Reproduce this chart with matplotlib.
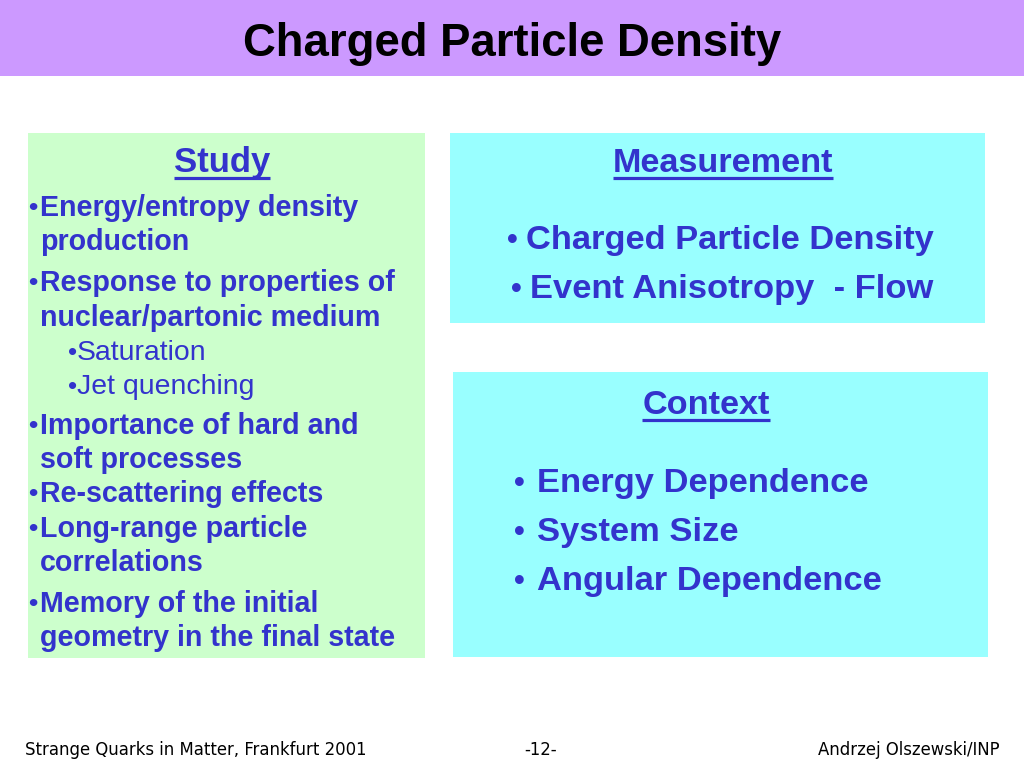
import matplotlib.pyplot as plt
from matplotlib.patches import Rectangle

plt.rcParams['font.family'] = ['Liberation Sans', 'DejaVu Sans']

title = 'Charged Particle Density'

study_head = 'Study'
study_lines = ['Energy/entropy density', 'production',
               'Response to properties of', 'nuclear/partonic medium',
               'Saturation', 'Jet quenching',
               'Importance of hard and', 'soft processes',
               'Re-scattering effects',
               'Long-range particle', 'correlations',
               'Memory of the initial', 'geometry in the final state']
# 0 = bullet line, 1 = continuation, 2 = sub bullet
study_kind = [0, 1, 0, 1, 2, 2, 0, 1, 0, 0, 1, 0, 1]

meas_head = 'Measurement'
meas_lines = ['Charged Particle Density', 'Event Anisotropy  - Flow']

ctx_head = 'Context'
ctx_lines = ['Energy Dependence', 'System Size', 'Angular Dependence']

footer_left = 'Strange Quarks in Matter, Frankfurt 2001'
footer_mid = '-12-'
footer_right = 'Andrzej Olszewski/INP'

blue = '#3333cc'

fig = plt.figure(figsize=(10.24, 7.68), dpi=100)
ax = fig.add_axes([0, 0, 1, 1])
ax.set_xlim(0, 1024)
ax.set_ylim(768, 0)
ax.axis('off')

# background boxes
ax.add_patch(Rectangle((0, 0), 1024, 76, color='#cc99ff', lw=0))
ax.add_patch(Rectangle((28, 133), 397, 525, color='#ccffcc', lw=0))
ax.add_patch(Rectangle((450, 133), 535, 190, color='#99ffff', lw=0))
ax.add_patch(Rectangle((453, 372), 535, 285, color='#99ffff', lw=0))

ax.text(512, 56, title, ha='center', va='baseline', fontsize=32.8,
        fontweight='bold', color='black')

heads = []
heads.append(ax.text(222, 172, study_head, ha='center', va='baseline',
                     fontsize=25, fontweight='bold', color=blue))
heads.append(ax.text(723, 172, meas_head, ha='center', va='baseline',
                     fontsize=24.7, fontweight='bold', color=blue))
heads.append(ax.text(706, 414, ctx_head, ha='center', va='baseline',
                     fontsize=24.7, fontweight='bold', color=blue))

# left column
study_y = [216, 250, 291, 326, 360, 394, 434, 468, 502, 537, 571, 612, 646]
for txt, kind, y in zip(study_lines, study_kind, study_y):
    if kind == 2:
        ax.text(68, y, '\u2022', ha='left', va='baseline', fontsize=19, color=blue)
        ax.text(77, y, txt, ha='left', va='baseline', fontsize=20.4, color=blue)
    else:
        if kind == 0:
            ax.text(28.5, y - 1, '\u2022', ha='left', va='baseline', fontsize=19,
                    fontweight='bold', color=blue)
        ax.text(40, y, txt, ha='left', va='baseline', fontsize=20.6,
                fontweight='bold', color=blue)

# measurement
meas_y = [249, 298]
meas_bx = [507, 511]
meas_tx = [526, 530]
for txt, y, bx, tx in zip(meas_lines, meas_y, meas_bx, meas_tx):
    ax.text(bx, y, '\u2022', ha='left', va='baseline', fontsize=22,
            fontweight='bold', color=blue)
    ax.text(tx, y, txt, ha='left', va='baseline', fontsize=24.8,
            fontweight='bold', color=blue)

# context
ctx_y = [492, 541, 590]
for txt, y in zip(ctx_lines, ctx_y):
    ax.text(514, y, '\u2022', ha='left', va='baseline', fontsize=22,
            fontweight='bold', color=blue)
    ax.text(537, y, txt, ha='left', va='baseline', fontsize=24.8,
            fontweight='bold', color=blue)

# footer
foot = dict(va='baseline', fontsize=11.9, color='black', family='DejaVu Sans')
ax.text(25, 755, footer_left, ha='left', **foot)
ax.text(541, 755, footer_mid, ha='center', **foot)
ax.text(1000, 755, footer_right, ha='right', **foot)

# underline the headings
fig.canvas.draw()
inv = ax.transData.inverted()
for t in heads:
    bb = t.get_window_extent()
    x0, _ = inv.transform((bb.x0, bb.y0))
    x1, _ = inv.transform((bb.x1, bb.y0))
    yb = t.get_position()[1] + 6
    ax.plot([x0, x1], [yb, yb], color=blue, lw=2.3, solid_capstyle='butt')

fig.savefig('out.png', dpi=100)
